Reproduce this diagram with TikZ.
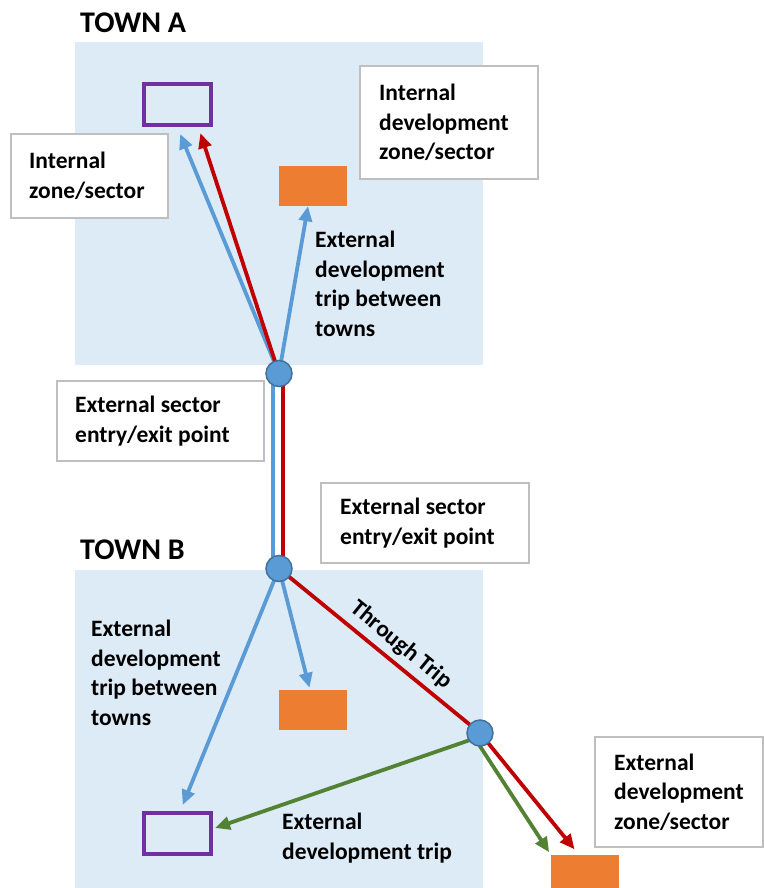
\documentclass[tikz,border=0pt]{standalone}
\usepackage{fontspec}
\setmainfont{Carlito}
\usepackage{tikz}
\usetikzlibrary{calc}
\usetikzlibrary{arrows.meta}
\usetikzlibrary{backgrounds}
\definecolor{townbg}{RGB}{221,235,247}
\definecolor{tripblue}{RGB}{91,155,213}
\definecolor{tripred}{RGB}{192,0,0}
\definecolor{tripgreen}{RGB}{84,130,53}
\definecolor{zoneorange}{RGB}{237,125,49}
\definecolor{zonepurple}{RGB}{112,48,160}
\definecolor{pointedge}{RGB}{65,113,156}
\definecolor{boxgray}{RGB}{191,191,191}
\tikzset{%
  myedge/.style={-{Triangle[length=15pt,width=13pt]}, line width=3.8pt},
  myline/.style={line width=3.8pt},
  mypoint/.style={circle, fill=tripblue, draw=pointedge, line width=1.5pt, minimum size=26pt, inner sep=0pt},
  myzone/.style={draw=zonepurple, line width=4pt, minimum width=67pt, minimum height=41pt, inner sep=0pt},
  mydev/.style={fill=zoneorange, minimum width=68pt, minimum height=40pt, inner sep=0pt},
  mybox/.style={draw=boxgray, line width=2pt, fill=white, anchor=north west, inner sep=0pt},
  mytext/.style={font=\fontsize{23.5}{29.5}\selectfont\bfseries, text=black, align=left, inner sep=0pt},
  mytown/.style={font=\fontsize{30}{36}\selectfont\bfseries, anchor=base west, inner sep=0pt}
}

\begin{document}
\begin{tikzpicture}[x=1pt, y=-1pt]
  \useasboundingbox (0,0) rectangle (763,888);
  \node[mytown] (townA) at (80,33) {TOWN A};
  \node[mytown] (townB) at (80,559) {TOWN B};

  \node[myzone] (intA) at (177.5,105) {};
  \node[mydev] (devA) at (313,186) {};
  \node[myzone] (intB) at (177.5,833) {};
  \node[mydev] (devB) at (313,710) {};
  \node[mydev] (devX) at (585,875) {};

  \node[mypoint] (ptA) at (279,373.5) {};
  \node[mypoint] (ptB) at (279,568.5) {};
  \node[mypoint] (ptC) at (480,733) {};

  \begin{scope}[on background layer]
    \fill[townbg] (75,42) rectangle (483,365);
    \fill[townbg] (75,570) rectangle (483,888);
    \draw[myline, tripblue] ([xshift=-6pt]ptA.center) -- ([xshift=-6pt]ptB.center);
    \draw[myline, tripred] ([xshift=4pt]ptA.center) -- ([xshift=4pt]ptB.center);
    \draw[myedge, tripblue, shorten >=7pt] (ptA.center) -- (intA.south);
    \draw[myedge, tripred, shorten >=6pt] (ptA.center) -- ($(intA.south)+(21,0)$);
    \draw[myedge, tripblue] (ptA.center) -- ($(devA.south)+(-5,0)$);
    \draw[myedge, tripblue, shorten >=6pt] (ptB.center) -- ($(intB.north)+(3,0)$);
    \draw[myedge, tripblue, shorten >=2pt] (ptB.center) -- ($(devB.north)+(-3,0)$);
    \draw[myline, tripred] (ptB.center) -- (ptC.center)
      node[mytext, pos=0.55, sloped, above, inner sep=6pt] (through) {Through Trip};
    \draw[myedge, tripred, shorten >=7pt] (ptC.center) -- ($(devX.north)+(-6,0)$);
    \draw[myedge, tripgreen, shorten >=3pt] ($(ptC.center)+(-6,4)$) -- (devX.north west);
    \draw[myedge, tripgreen] ($(ptC.center)+(-10,7)$) -- ($(intB.east)+(2,-5)$);
  \end{scope}

  \node[mytext, anchor=north west] (tripA) at (315,231) {External\\development\\trip between\\towns};
  \node[mytext, anchor=north west] (tripB) at (91,620) {External\\development\\trip between\\towns};
  \node[mytext, anchor=north west] (tripX) at (282,813) {External\\development trip};

  \node[mybox, minimum width=157pt, minimum height=84pt] (intbox) at (10,133) {};
  \node[mytext, anchor=west] (inttext) at ([xshift=19pt]intbox.west) {Internal\\zone/sector};
  \node[mybox, minimum width=178pt, minimum height=113pt] (devbox) at (359,65) {};
  \node[mytext, anchor=west] (devtext) at ([xshift=20pt]devbox.west) {Internal\\development\\zone/sector};
  \node[mybox, minimum width=207pt, minimum height=80pt] (entbox) at (56,380) {};
  \node[mytext, anchor=west] (enttext) at ([xshift=19pt]entbox.west) {External sector\\entry/exit point};
  \node[mybox, minimum width=208pt, minimum height=80pt] (exbox) at (320,482) {};
  \node[mytext, anchor=west] (extext) at ([xshift=20pt]exbox.west) {External sector\\entry/exit point};
  \node[mybox, minimum width=168pt, minimum height=110pt] (xbox) at (594,736) {};
  \node[mytext, anchor=west] (xtext) at ([xshift=20pt]xbox.west) {External\\development\\zone/sector};
\end{tikzpicture}
\end{document}
